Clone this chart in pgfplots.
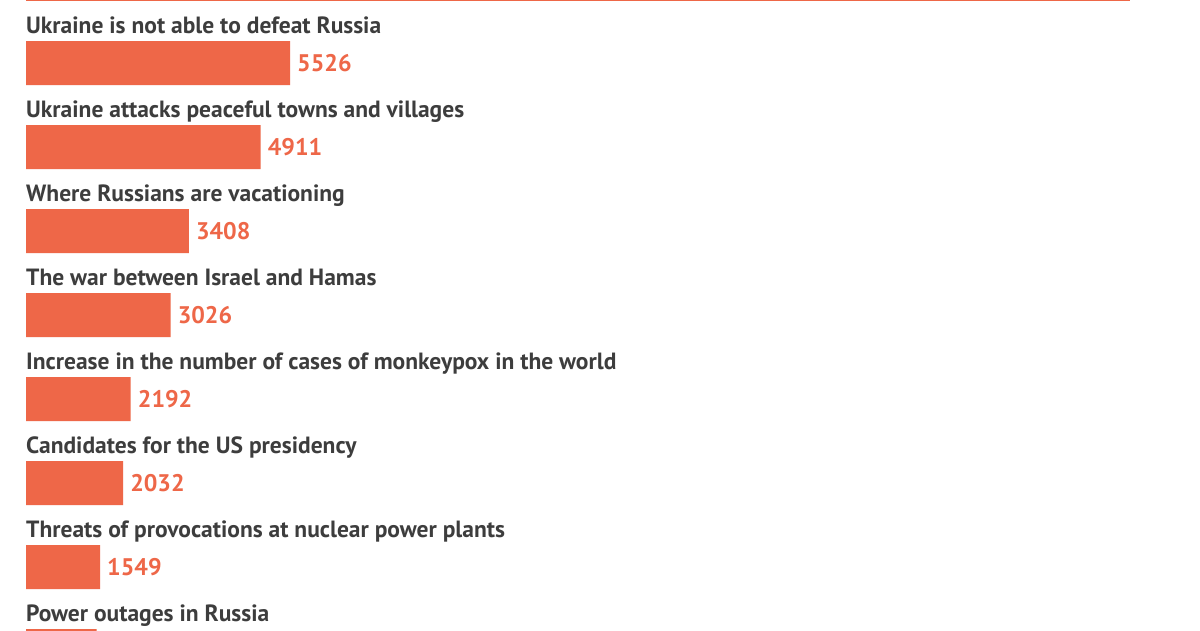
\documentclass[border=0pt]{standalone}
\usepackage{pgfplots}
\pgfplotsset{compat=1.18}
\usepackage{fontspec}
\setmainfont{PT Sans}
\definecolor{barorange}{HTML}{EE6748}
\definecolor{labelgray}{HTML}{3D3D3D}
\begin{document}
\begin{tikzpicture}[x=1pt,y=1pt]
\useasboundingbox (0,0) rectangle (1200,-630);
\clip (0,0) rectangle (1200,-630);
\fill[white] (0,0) rectangle (1200,-630);
\draw[barorange, line width=1.5pt] (26,-0.5) -- (1130,-0.5);
\begin{axis}[
  at={(26pt,-21pt)}, anchor=north west,
  scale only axis, width=264pt, height=672pt,
  xmin=0, xmax=5526, ymin=-0.5, ymax=7.5, y dir=reverse,
  axis lines=none, xbar, bar width=44pt, bar shift=0pt,
  clip=false,
  /pgf/number format/assume math mode=true,
  /pgf/number format/1000 sep={},
  nodes near coords, nodes near coords align={horizontal},
  every node near coord/.append style={font=\bfseries\fontsize{24}{24}\selectfont,
    text=barorange, inner sep=0pt, xshift=7pt, yshift=-0.5pt},
]
\addplot[fill=barorange, draw=none] coordinates {
  (5526,0) (4911,1) (3408,2) (3026,3) (2192,4) (2032,5) (1549,6) (1480,7)};
\tikzset{lbl/.style={anchor=base west, inner sep=0pt, text=labelgray,
  font=\bfseries\fontsize{23.5}{24}\selectfont, yshift=29.5pt}}
\node[lbl] at (axis cs:0,0) {Ukraine is not able to defeat Russia};
\node[lbl] at (axis cs:0,1) {Ukraine attacks peaceful towns and villages};
\node[lbl] at (axis cs:0,2) {Where Russians are vacationing};
\node[lbl] at (axis cs:0,3) {The war between Israel and Hamas};
\node[lbl] at (axis cs:0,4) {Increase in the number of cases of monkeypox in the world};
\node[lbl] at (axis cs:0,5) {Candidates for the US presidency};
\node[lbl] at (axis cs:0,6) {Threats of provocations at nuclear power plants};
\node[lbl] at (axis cs:0,7) {Power outages in Russia};
\end{axis}
\end{tikzpicture}
\end{document}
